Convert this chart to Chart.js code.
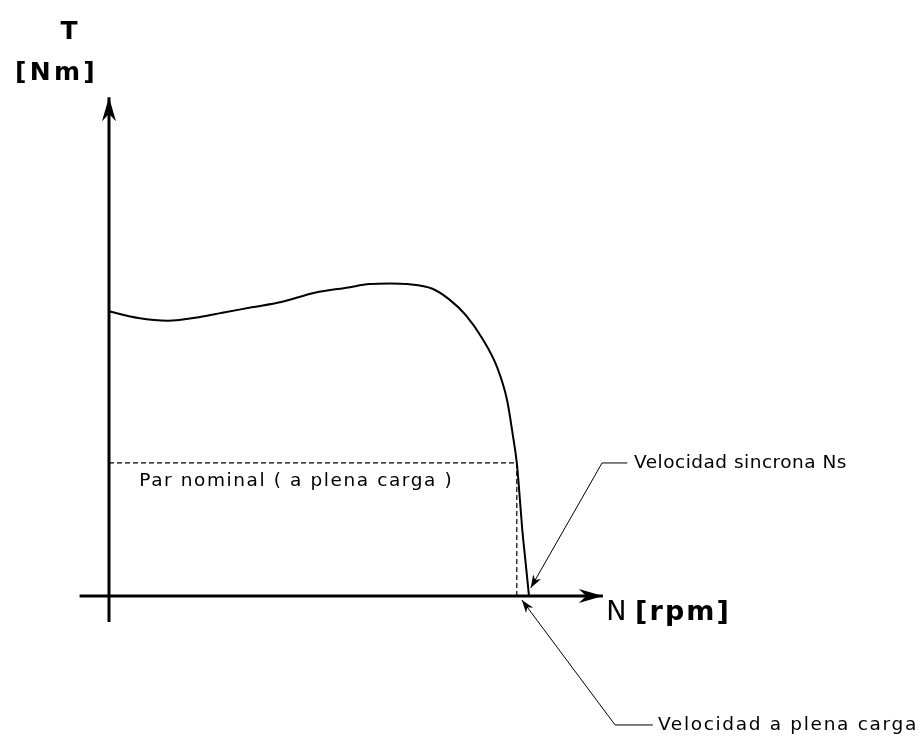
<!DOCTYPE html>
<html>
<head>
<meta charset="utf-8">
<script src="https://cdn.jsdelivr.net/npm/chart.js@4/dist/chart.umd.min.js"></script>
<style>
  html, body { margin: 0; padding: 0; background: #fff; }
  #wrap { width: 920px; height: 736px; }
</style>
</head>
<body>
<div id="wrap"><canvas id="chart"></canvas></div>
<script>
// velocidad en % de Ns, par en % del par nominal
const velocidad = [0, 7, 14, 22, 27, 34, 41, 49, 57, 62, 67, 71, 77, 81, 85, 89, 92.4, 94.8, 96.2, 97.1, 97.6, 98.4, 99.2, 100];
const par = [214, 209, 207, 210, 213, 217, 221, 228, 232, 234.5, 235, 234.5, 231, 223, 211, 193, 172, 147, 120, 100, 82, 50, 25, 0];

const velPlenaCarga = 97.1;
const parNominal = 100;

// puntos de los ejes y de las lineas de referencia
const ejeX = [{ x: -7, y: 0 }, { x: 117.6, y: 0 }];
const ejeY = [{ x: 0, y: -19.5 }, { x: 0, y: 375 }];
const lineaParNominal = [{ x: 0, y: parNominal }, { x: velPlenaCarga, y: parNominal }];
const lineaVelPlena = [{ x: velPlenaCarga, y: parNominal }, { x: velPlenaCarga, y: 0 }];
const guiaSincrona = [{ x: 123.4, y: 100 }, { x: 117.4, y: 100 }, { x: 100.4, y: 6 }];
const guiaPlenaCarga = [{ x: 98.3, y: -3 }, { x: 120.5, y: -97 }, { x: 129.5, y: -97 }];

// x,y en unidades del grafico; ancho = ancho deseado del texto en px
const textos = [
  { t: 'T', x: -9.5, y: 424, font: 'bold 25px "DejaVu Sans"', align: 'center', ancho: 19 },
  { t: '[Nm]', x: -12.5, y: 393, font: 'bold 25px "DejaVu Sans"', align: 'center', ancho: 83 },
  { t: 'Par nominal ( a plena carga )', x: 7.2, y: 86, font: '18.5px "DejaVu Sans"', align: 'left', ancho: 314 },
  { t: 'Velocidad sincrona Ns', x: 125, y: 100, font: '18.5px "DejaVu Sans"', align: 'left', ancho: 213 },
  { t: 'Velocidad a plena carga', x: 130.7, y: -97, font: '18.5px "DejaVu Sans"', align: 'left', ancho: 260 }
];

const curva = velocidad.map((v, i) => ({ x: v, y: par[i] }));

function linea(data, width, dash) {
  return {
    data: data, showLine: true, borderColor: '#000', borderWidth: width,
    borderDash: dash || [], pointRadius: 0, tension: 0, fill: false
  };
}

function flecha(ctx, x1, y1, x2, y2, len, half) {
  const a = Math.atan2(y2 - y1, x2 - x1);
  ctx.save();
  ctx.translate(x2, y2);
  ctx.rotate(a);
  ctx.beginPath();
  ctx.moveTo(0, 0);
  ctx.lineTo(-len, -half);
  ctx.lineTo(-len * 0.7, 0);
  ctx.lineTo(-len, half);
  ctx.closePath();
  ctx.fillStyle = '#000';
  ctx.fill();
  ctx.restore();
}

// texto con espaciado entre letras para ocupar el ancho pedido
function textoEspaciado(ctx, t, x, y, ancho, align) {
  ctx.letterSpacing = '0px';
  const w0 = ctx.measureText(t).width;
  const extra = t.length > 1 ? Math.max(0, (ancho - w0) / t.length) : 0;
  ctx.letterSpacing = extra + 'px';
  const w = ctx.measureText(t).width;
  ctx.textAlign = 'left';
  const x0 = align === 'center' ? x - w / 2 : x;
  ctx.fillText(t, x0, y);
  ctx.letterSpacing = '0px';
  return w;
}

const anotaciones = {
  id: 'anotaciones',
  afterDatasetsDraw(chart) {
    const ctx = chart.ctx;
    const sx = chart.scales.x, sy = chart.scales.y;
    const px = v => sx.getPixelForValue(v);
    const py = v => sy.getPixelForValue(v);
    // flechas de los ejes
    flecha(ctx, px(ejeY[0].x), py(ejeY[0].y), px(ejeY[1].x), py(ejeY[1].y), 24, 7);
    flecha(ctx, px(ejeX[0].x), py(ejeX[0].y), px(ejeX[1].x), py(ejeX[1].y), 24, 7);
    // flechas de las guias
    flecha(ctx, px(guiaSincrona[1].x), py(guiaSincrona[1].y), px(guiaSincrona[2].x), py(guiaSincrona[2].y), 13, 4.5);
    flecha(ctx, px(guiaPlenaCarga[1].x), py(guiaPlenaCarga[1].y), px(guiaPlenaCarga[0].x), py(guiaPlenaCarga[0].y), 13, 4.5);
    // textos
    ctx.save();
    ctx.fillStyle = '#000';
    ctx.textBaseline = 'middle';
    textos.forEach(o => {
      ctx.font = o.font;
      textoEspaciado(ctx, o.t, px(o.x), py(o.y), o.ancho, o.align);
    });
    // N [rpm]
    const nx = px(118.4), ny = py(-12.5);
    ctx.font = '27px "DejaVu Sans"';
    ctx.textAlign = 'left';
    ctx.fillText('N', nx, ny);
    const w = ctx.measureText('N ').width;
    ctx.font = 'bold 27px "DejaVu Sans"';
    textoEspaciado(ctx, '[rpm]', nx + w, ny, 96, 'left');
    ctx.restore();
  }
};

new Chart(document.getElementById('chart'), {
  type: 'scatter',
  data: {
    datasets: [
      linea(ejeX, 3),
      linea(ejeY, 3),
      linea(lineaParNominal, 1.2, [5, 3]),
      linea(lineaVelPlena, 1.2, [5, 3]),
      linea(guiaSincrona, 1),
      linea(guiaPlenaCarga, 1),
      Object.assign(linea(curva, 2), { tension: 0.4, cubicInterpolationMode: 'monotone' })
    ]
  },
  options: {
    responsive: true,
    maintainAspectRatio: false,
    animation: false,
    layout: { padding: 0 },
    plugins: { legend: { display: false }, tooltip: { enabled: false } },
    scales: {
      x: { type: 'linear', display: false, min: -25.95, max: 193.1 },
      y: { type: 'linear', display: false, min: -105.3, max: 448.1 }
    }
  },
  plugins: [anotaciones]
});
</script>
</body>
</html>
